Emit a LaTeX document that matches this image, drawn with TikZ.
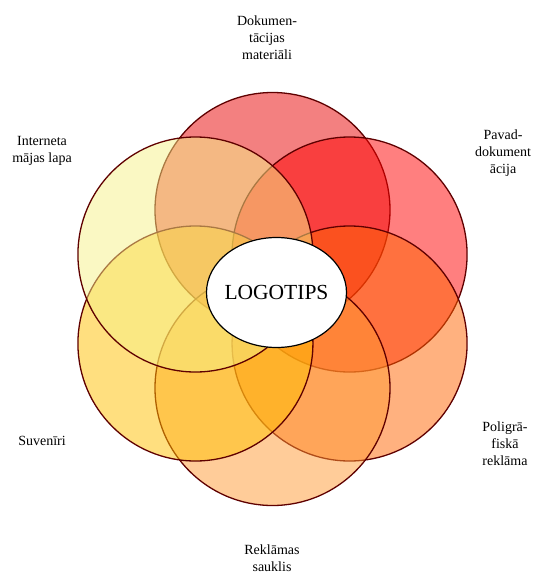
\documentclass[tikz,border=0pt]{standalone}
\usepackage{fontspec}
\setmainfont{Liberation Serif}
\usetikzlibrary{positioning,shapes.geometric,calc}
\definecolor{rimred}{RGB}{95,0,0}
\definecolor{docred}{RGB}{231,1,1}
\definecolor{pavred}{RGB}{255,0,0}
\definecolor{poliorange}{RGB}{255,100,0}
\definecolor{saukorange}{RGB}{255,153,51}
\definecolor{suvyellow}{RGB}{255,192,0}
\definecolor{netyellow}{RGB}{245,241,135}

\begin{document}
\begin{tikzpicture}[x=1pt, y=-1pt]
\tikzset{
  petal/.style={circle, draw=rimred, line width=1.3pt, fill opacity=0.5, minimum size=235pt, inner sep=0pt},
  caption/.style={align=center, font=\fontsize{14}{17}\selectfont, inner sep=0pt}
}
\useasboundingbox (0,0) rectangle (534,574);
\coordinate (mid) at (272.5,299);

% petals, clockwise from the top
\node[petal, fill=docred] (doc) at ($(mid)+(90:89pt)$) {};
\node[petal, fill=pavred] (pav) at ($(mid)+(30:89pt)$) {};
\node[petal, fill=poliorange] (poli) at ($(mid)+(-30:89pt)$) {};
\node[petal, fill=saukorange] (sauk) at ($(mid)+(-90:89pt)$) {};
\node[petal, fill=suvyellow] (suv) at ($(mid)+(-150:89pt)$) {};
\node[petal, fill=netyellow] (net) at ($(mid)+(150:89pt)$) {};

\node[ellipse, draw=black, line width=1.2pt, fill=white, inner sep=0pt, minimum width=140pt, minimum height=110pt, font=\fontsize{21.5}{25}\selectfont] (logo) at (276.5,292.5) {\makebox[0pt]{LOGOTIPS}};

% captions
\node[caption] (doclbl) at (267,38) {Dokumen-\\tācijas\\materiāli};
\node[caption] (pavlbl) at (503,153) {Pavad-\\dokument\\ācija};
\node[caption] (polilbl) at (505,444) {Poligrā-\\fiskā\\reklāma};
\node[caption] (sauklbl) at (272,558) {Reklāmas\\sauklis};
\node[caption] (suvlbl) at (42,441) {Suvenīri};
\node[caption] (netlbl) at (42,151) {Interneta\\mājas lapa};
\end{tikzpicture}
\end{document}
